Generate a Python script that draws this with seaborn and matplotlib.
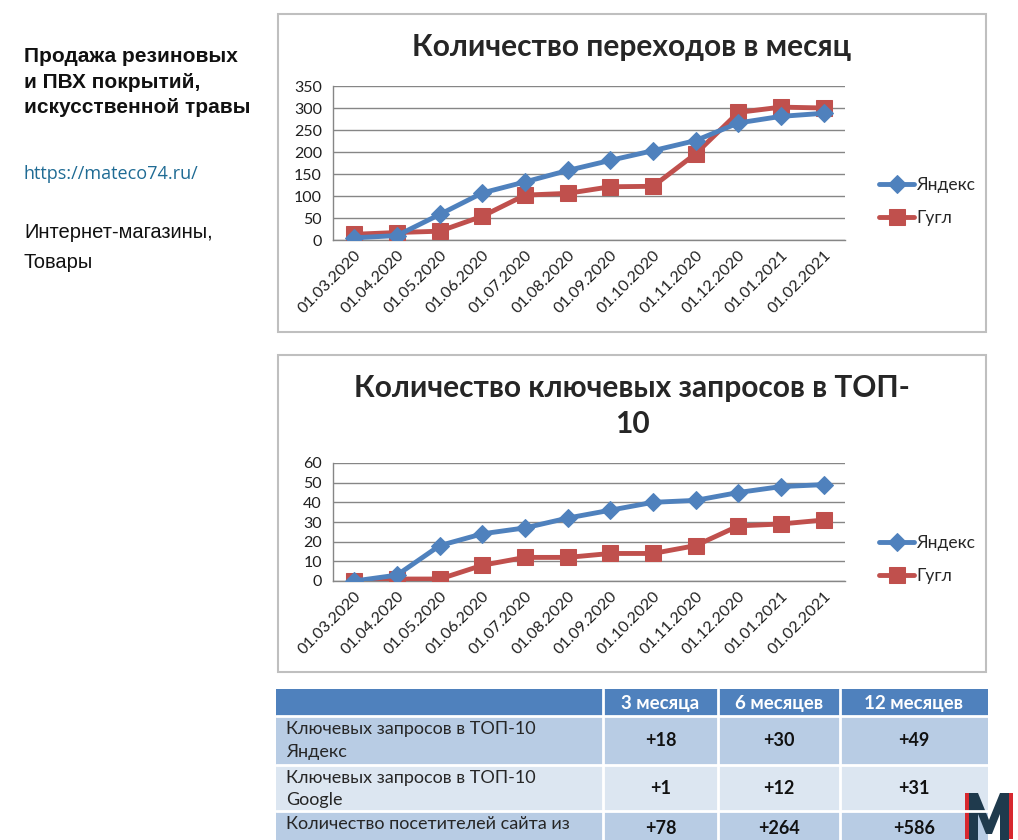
import matplotlib
matplotlib.use("Agg")
import matplotlib.pyplot as plt
from matplotlib.patches import Rectangle, Polygon
import seaborn as sns
import pandas as pd


dates = ["01.03.2020", "01.04.2020", "01.05.2020", "01.06.2020",
         "01.07.2020", "01.08.2020", "01.09.2020", "01.10.2020",
         "01.11.2020", "01.12.2020", "01.01.2021", "01.02.2021"]

visits_yandex = [5, 10, 58, 107, 132, 158, 181, 203, 226, 266, 281, 288]
visits_google = [13, 17, 20, 54, 102, 106, 121, 122, 196, 290, 302, 300]

top10_yandex = [0, 3, 18, 24, 27, 32, 36, 40, 41, 45, 48, 49]
top10_google = [0, 1, 1, 8, 12, 12, 14, 14, 18, 28, 29, 31]

table_header = ["", "3 месяца", "6 месяцев", "12 месяцев"]
table_rows = [
    "Ключевых запросов в ТОП-10\nЯндекс",
    "Ключевых запросов в ТОП-10\nGoogle",
    "Количество посетителей сайта из",
]
table_values = [
    ["+18", "+30", "+49"],
    ["+1", "+12", "+31"],
    ["+78", "+264", "+586"],
]

BLUE = "#4F81BD"
RED = "#C0504D"
W, H = 1018, 840

sns.set_style("white")
plt.rcParams["font.family"] = ["Lato", "DejaVu Sans"]


def px_axes(fig, x0, y0, x1, y1):
    return fig.add_axes([x0 / W, 1 - y1 / H, (x1 - x0) / W, (y1 - y0) / H])


def line_chart(fig, box, yandex, google, ymax, ystep, legend_y):
    ax = px_axes(fig, *box)
    df = pd.DataFrame({
        "idx": list(range(len(dates))) * 2,
        "value": yandex + google,
        "series": ["Яндекс"] * len(dates) + ["Гугл"] * len(dates),
    })
    sns.lineplot(data=df[df.series == "Яндекс"], x="idx", y="value",
                 color=BLUE, lw=3.5, marker="D", markersize=9,
                 markeredgecolor=BLUE, label="Яндекс", ax=ax, zorder=4)
    sns.lineplot(data=df[df.series == "Гугл"], x="idx", y="value",
                 color=RED, lw=3.5, marker="s", markersize=11,
                 markeredgecolor=RED, label="Гугл", ax=ax, zorder=3)

    ax.set_xlim(-0.5, len(dates) - 0.5)
    ax.set_ylim(0, ymax)
    ax.set_yticks(range(0, ymax + 1, ystep))
    ax.set_xticks(range(len(dates)))
    ax.set_xticklabels(dates, rotation=45, ha="right", va="top",
                       rotation_mode="anchor", fontsize=11.5, color="#202020")
    ax.set_xticks([i - 0.5 for i in range(len(dates) + 1)], minor=True)
    ax.tick_params(axis="x", which="major", length=0, pad=6)
    ax.tick_params(axis="x", which="minor", length=5, color="#868686",
                   direction="out", width=1)
    ax.tick_params(axis="y", length=5, color="#868686", direction="out",
                   labelsize=11.5, labelcolor="#202020", pad=3)
    ax.grid(axis="y", color="#868686", lw=1)
    ax.set_axisbelow(True)
    for side in ["top", "right"]:
        ax.spines[side].set_visible(False)
    for side in ["left", "bottom"]:
        ax.spines[side].set_color("#868686")
        ax.spines[side].set_linewidth(1)
    ax.set_xlabel("")
    ax.set_ylabel("")
    ax.legend(loc="center left", bbox_to_anchor=(1.05, legend_y),
              frameon=False, fontsize=12.5, handlelength=2.0,
              handletextpad=0.15, borderpad=0, labelspacing=1.0)
    return ax


fig = plt.figure(figsize=(W / 100, H / 100), dpi=100)

bg = fig.add_axes([0, 0, 1, 1])
bg.set_xlim(0, W)
bg.set_ylim(H, 0)
bg.axis("off")

# chart frames
for (x0, y0, x1, y1) in [(278, 14, 986, 332), (278, 355, 986, 672)]:
    bg.add_patch(Rectangle((x0, y0), x1 - x0, y1 - y0, fill=False,
                           ec="#BFBFBF", lw=1.5))

# left text
bg.text(24, 82, "Продажа резиновых\nи ПВХ покрытий,\nискусственной травы",
        family="Liberation Sans", weight="bold", fontsize=15,
        va="center", ha="left", linespacing=1.42, color="#111111")
bg.text(24, 174, "https://mateco74.ru/", family="Open Sans",
        fontsize=13, color="#1F6B94", va="center")
bg.text(24, 232, "Интернет-магазины,", family="Liberation Sans",
        fontsize=14.5, va="center", color="#111111")
bg.text(24, 263, "Товары", family="Liberation Sans",
        fontsize=14.5, va="center", color="#111111")

# chart titles
fig.text(632 / W, 1 - 47 / H, "Количество переходов в месяц",
         ha="center", va="center", weight="bold", fontsize=21.5)
fig.text(632 / W, 1 - 388 / H, "Количество ключевых запросов в ТОП-",
         ha="center", va="center", weight="bold", fontsize=21.5)
fig.text(632 / W, 1 - 424 / H, "10",
         ha="center", va="center", weight="bold", fontsize=21.5)

line_chart(fig, (333, 86, 845, 240), visits_yandex, visits_google,
           350, 50, 0.25)
line_chart(fig, (333, 463, 845, 581), top10_yandex, top10_google,
           60, 10, 0.18)

# table
col_x = [276, 603, 718, 840, 988]
row_y = [689, 716, 765, 811, 862]
row_colors = ["#B8CCE4", "#DCE6F1", "#B8CCE4"]
bg.add_patch(Rectangle((col_x[0], row_y[0]), col_x[-1] - col_x[0],
                       row_y[1] - row_y[0], fc=BLUE, ec="none"))
for c in range(1, 4):
    cx = (col_x[c] + col_x[c + 1]) / 2
    bg.text(cx, (row_y[0] + row_y[1]) / 2 + 1, table_header[c],
            ha="center", va="center", color="white", weight="bold",
            fontsize=13.5)
for r in range(3):
    y0, y1 = row_y[r + 1], row_y[r + 2]
    bg.add_patch(Rectangle((col_x[0], y0), col_x[-1] - col_x[0], y1 - y0,
                           fc=row_colors[r], ec="none"))
    bg.text(col_x[0] + 10, y0 + 5, table_rows[r], ha="left", va="top",
            fontsize=13, color="#262626", linespacing=1.5)
    for c in range(3):
        cx = (col_x[c + 1] + col_x[c + 2]) / 2
        vy = (y0 + y1) / 2 if r < 2 else 829
        bg.text(cx, vy, table_values[r][c],
                ha="center", va="center", fontsize=13, weight="bold",
                color="#111111")
for y in row_y[1:-1]:
    bg.plot([col_x[0], col_x[-1]], [y, y], color="white", lw=2)
for x in col_x[1:-1]:
    bg.plot([x, x], [row_y[0], row_y[-1]], color="white", lw=2)

# logo
bg.add_patch(Rectangle((965, 793), 7, 46, fc="#D7282F", ec="none"))
bg.add_patch(Rectangle((1006, 793), 7, 46, fc="#D7282F", ec="none"))
bg.add_patch(Polygon([(969, 840), (969, 793), (978, 793), (989, 820),
                      (1000, 793), (1009, 793), (1009, 840), (1000, 840),
                      (1000, 814), (992, 834), (986, 834), (978, 814),
                      (978, 840)], closed=True, fc="#1F3A4D", ec="none"))

fig.savefig("out.png", dpi=100, facecolor="white")
